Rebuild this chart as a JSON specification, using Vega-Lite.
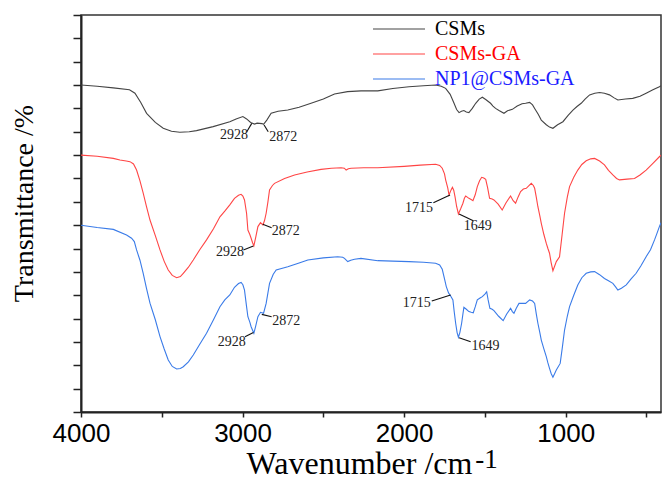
{
  "$schema": "https://vega.github.io/schema/vega-lite/v6.json",
  "autosize": {"type": "none"},
  "width": 580,
  "height": 397,
  "padding": {"left": 81, "top": 15, "right": 1, "bottom": 67},
  "background": "white",
  "config": {
    "view": {"stroke": "#333333", "strokeWidth": 1.5},
    "axis": {"grid": false, "domainColor": "#222222", "domainWidth": 2, "tickColor": "#222222", "tickWidth": 1.5}
  },
  "datasets": {
    "black": [
      {"wn": 4000, "t": 14.0}, {"wn": 3900, "t": 13.95}, {"wn": 3800, "t": 13.88}, {"wn": 3700, "t": 13.8}, {"wn": 3666, "t": 13.65},
      {"wn": 3630, "t": 13.25}, {"wn": 3594, "t": 12.79}, {"wn": 3540, "t": 12.4}, {"wn": 3491, "t": 12.15}, {"wn": 3440, "t": 12.02},
      {"wn": 3388, "t": 11.98}, {"wn": 3330, "t": 12.0}, {"wn": 3285, "t": 12.05}, {"wn": 3182, "t": 12.22}, {"wn": 3079, "t": 12.43},
      {"wn": 3040, "t": 12.55}, {"wn": 2998, "t": 12.65}, {"wn": 2975, "t": 12.55}, {"wn": 2950, "t": 12.4}, {"wn": 2926, "t": 12.33},
      {"wn": 2910, "t": 12.37}, {"wn": 2895, "t": 12.36}, {"wn": 2880, "t": 12.35}, {"wn": 2870, "t": 12.32}, {"wn": 2850, "t": 12.5},
      {"wn": 2823, "t": 12.79}, {"wn": 2780, "t": 12.88}, {"wn": 2720, "t": 12.93}, {"wn": 2650, "t": 13.05}, {"wn": 2576, "t": 13.22},
      {"wn": 2500, "t": 13.4}, {"wn": 2431, "t": 13.62}, {"wn": 2350, "t": 13.72}, {"wn": 2267, "t": 13.75}, {"wn": 2163, "t": 13.75},
      {"wn": 2070, "t": 13.85}, {"wn": 1970, "t": 13.93}, {"wn": 1880, "t": 13.97}, {"wn": 1805, "t": 14.0}, {"wn": 1770, "t": 13.95},
      {"wn": 1743, "t": 13.86}, {"wn": 1715, "t": 13.6}, {"wn": 1691, "t": 13.22}, {"wn": 1675, "t": 12.95}, {"wn": 1660, "t": 12.82},
      {"wn": 1645, "t": 12.88}, {"wn": 1630, "t": 12.91}, {"wn": 1615, "t": 12.85}, {"wn": 1599, "t": 12.82}, {"wn": 1578, "t": 13.0},
      {"wn": 1557, "t": 13.22}, {"wn": 1535, "t": 13.4}, {"wn": 1516, "t": 13.48}, {"wn": 1495, "t": 13.38}, {"wn": 1465, "t": 13.22},
      {"wn": 1450, "t": 13.1}, {"wn": 1434, "t": 13.0}, {"wn": 1410, "t": 12.9}, {"wn": 1382, "t": 12.79}, {"wn": 1360, "t": 12.9},
      {"wn": 1330, "t": 12.96}, {"wn": 1300, "t": 13.1}, {"wn": 1270, "t": 13.2}, {"wn": 1248, "t": 13.22}, {"wn": 1223, "t": 13.26},
      {"wn": 1205, "t": 13.15}, {"wn": 1192, "t": 13.0}, {"wn": 1170, "t": 12.75}, {"wn": 1151, "t": 12.5}, {"wn": 1120, "t": 12.3},
      {"wn": 1100, "t": 12.2}, {"wn": 1079, "t": 12.15}, {"wn": 1050, "t": 12.3}, {"wn": 1017, "t": 12.43}, {"wn": 985, "t": 12.7},
      {"wn": 955, "t": 12.93}, {"wn": 930, "t": 13.08}, {"wn": 904, "t": 13.22}, {"wn": 880, "t": 13.4}, {"wn": 852, "t": 13.58},
      {"wn": 820, "t": 13.65}, {"wn": 790, "t": 13.68}, {"wn": 760, "t": 13.65}, {"wn": 729, "t": 13.58}, {"wn": 700, "t": 13.45},
      {"wn": 677, "t": 13.36}, {"wn": 630, "t": 13.4}, {"wn": 585, "t": 13.43}, {"wn": 540, "t": 13.52}, {"wn": 502, "t": 13.65},
      {"wn": 460, "t": 13.8}, {"wn": 420, "t": 13.93}, {"wn": 410, "t": 13.97}
    ],
    "red": [
      {"wn": 4000, "t": 11.0}, {"wn": 3900, "t": 10.95}, {"wn": 3800, "t": 10.86}, {"wn": 3759, "t": 10.79}, {"wn": 3720, "t": 10.75},
      {"wn": 3697, "t": 10.72}, {"wn": 3675, "t": 10.62}, {"wn": 3656, "t": 10.36}, {"wn": 3635, "t": 9.9}, {"wn": 3615, "t": 9.37},
      {"wn": 3595, "t": 8.8}, {"wn": 3573, "t": 8.22}, {"wn": 3540, "t": 7.55}, {"wn": 3511, "t": 6.94}, {"wn": 3485, "t": 6.45},
      {"wn": 3460, "t": 6.08}, {"wn": 3435, "t": 5.85}, {"wn": 3408, "t": 5.75}, {"wn": 3385, "t": 5.8}, {"wn": 3367, "t": 5.94},
      {"wn": 3335, "t": 6.2}, {"wn": 3305, "t": 6.51}, {"wn": 3265, "t": 6.95}, {"wn": 3223, "t": 7.37}, {"wn": 3180, "t": 7.85},
      {"wn": 3140, "t": 8.36}, {"wn": 3110, "t": 8.6}, {"wn": 3079, "t": 8.87}, {"wn": 3050, "t": 9.15}, {"wn": 3025, "t": 9.28},
      {"wn": 3009, "t": 9.32}, {"wn": 2998, "t": 9.25}, {"wn": 2988, "t": 9.08}, {"wn": 2975, "t": 8.5}, {"wn": 2967, "t": 7.79},
      {"wn": 2955, "t": 7.6}, {"wn": 2947, "t": 7.44}, {"wn": 2938, "t": 7.25}, {"wn": 2930, "t": 7.11}, {"wn": 2918, "t": 7.5},
      {"wn": 2905, "t": 7.94}, {"wn": 2889, "t": 8.11}, {"wn": 2874, "t": 8.01}, {"wn": 2864, "t": 8.2}, {"wn": 2854, "t": 8.51},
      {"wn": 2843, "t": 9.0}, {"wn": 2833, "t": 9.51}, {"wn": 2815, "t": 9.7}, {"wn": 2802, "t": 9.79}, {"wn": 2740, "t": 10.0},
      {"wn": 2678, "t": 10.15}, {"wn": 2600, "t": 10.28}, {"wn": 2514, "t": 10.39}, {"wn": 2450, "t": 10.44}, {"wn": 2390, "t": 10.46},
      {"wn": 2370, "t": 10.44}, {"wn": 2359, "t": 10.36}, {"wn": 2345, "t": 10.42}, {"wn": 2328, "t": 10.44}, {"wn": 2250, "t": 10.46},
      {"wn": 2163, "t": 10.46}, {"wn": 2000, "t": 10.52}, {"wn": 1900, "t": 10.57}, {"wn": 1805, "t": 10.61}, {"wn": 1780, "t": 10.56},
      {"wn": 1764, "t": 10.44}, {"wn": 1750, "t": 10.2}, {"wn": 1743, "t": 9.94}, {"wn": 1730, "t": 9.6}, {"wn": 1722, "t": 9.29},
      {"wn": 1710, "t": 9.5}, {"wn": 1701, "t": 9.62}, {"wn": 1693, "t": 9.5}, {"wn": 1685, "t": 9.22}, {"wn": 1675, "t": 8.8},
      {"wn": 1664, "t": 8.48}, {"wn": 1650, "t": 8.7}, {"wn": 1636, "t": 8.94}, {"wn": 1627, "t": 9.15}, {"wn": 1619, "t": 9.25},
      {"wn": 1609, "t": 9.2}, {"wn": 1599, "t": 9.15}, {"wn": 1585, "t": 9.1}, {"wn": 1574, "t": 9.05}, {"wn": 1560, "t": 9.3},
      {"wn": 1547, "t": 9.65}, {"wn": 1533, "t": 9.9}, {"wn": 1520, "t": 10.05}, {"wn": 1507, "t": 10.02}, {"wn": 1495, "t": 9.96},
      {"wn": 1483, "t": 9.6}, {"wn": 1471, "t": 9.15}, {"wn": 1455, "t": 9.12}, {"wn": 1444, "t": 9.08}, {"wn": 1418, "t": 8.9},
      {"wn": 1393, "t": 8.65}, {"wn": 1370, "t": 8.95}, {"wn": 1341, "t": 9.25}, {"wn": 1325, "t": 9.05}, {"wn": 1310, "t": 8.94},
      {"wn": 1295, "t": 9.2}, {"wn": 1279, "t": 9.44}, {"wn": 1262, "t": 9.55}, {"wn": 1244, "t": 9.58}, {"wn": 1213, "t": 9.79},
      {"wn": 1200, "t": 9.7}, {"wn": 1192, "t": 9.58}, {"wn": 1182, "t": 9.2}, {"wn": 1172, "t": 8.79}, {"wn": 1160, "t": 8.4},
      {"wn": 1151, "t": 8.08}, {"wn": 1135, "t": 7.6}, {"wn": 1120, "t": 7.22}, {"wn": 1110, "t": 7.0}, {"wn": 1100, "t": 6.8},
      {"wn": 1090, "t": 6.4}, {"wn": 1079, "t": 6.05}, {"wn": 1068, "t": 6.25}, {"wn": 1058, "t": 6.44}, {"wn": 1038, "t": 6.65},
      {"wn": 1022, "t": 7.6}, {"wn": 1007, "t": 8.51}, {"wn": 990, "t": 9.2}, {"wn": 976, "t": 9.65}, {"wn": 950, "t": 10.05},
      {"wn": 925, "t": 10.36}, {"wn": 900, "t": 10.6}, {"wn": 873, "t": 10.76}, {"wn": 845, "t": 10.84}, {"wn": 821, "t": 10.86},
      {"wn": 790, "t": 10.75}, {"wn": 760, "t": 10.58}, {"wn": 735, "t": 10.35}, {"wn": 708, "t": 10.15}, {"wn": 685, "t": 10.0},
      {"wn": 667, "t": 9.94}, {"wn": 620, "t": 9.97}, {"wn": 574, "t": 10.0}, {"wn": 540, "t": 10.15}, {"wn": 502, "t": 10.36},
      {"wn": 460, "t": 10.65}, {"wn": 420, "t": 10.93}, {"wn": 410, "t": 11.0}
    ],
    "blue": [
      {"wn": 4000, "t": 8.0}, {"wn": 3900, "t": 7.9}, {"wn": 3800, "t": 7.82}, {"wn": 3718, "t": 7.58}, {"wn": 3687, "t": 7.44},
      {"wn": 3670, "t": 7.3}, {"wn": 3656, "t": 6.94}, {"wn": 3635, "t": 6.5}, {"wn": 3615, "t": 5.94}, {"wn": 3595, "t": 5.3},
      {"wn": 3573, "t": 4.66}, {"wn": 3540, "t": 3.95}, {"wn": 3511, "t": 3.23}, {"wn": 3485, "t": 2.7}, {"wn": 3460, "t": 2.23},
      {"wn": 3435, "t": 1.95}, {"wn": 3408, "t": 1.84}, {"wn": 3385, "t": 1.86}, {"wn": 3367, "t": 1.94}, {"wn": 3335, "t": 2.15},
      {"wn": 3305, "t": 2.44}, {"wn": 3265, "t": 2.9}, {"wn": 3223, "t": 3.37}, {"wn": 3180, "t": 3.95}, {"wn": 3140, "t": 4.51},
      {"wn": 3110, "t": 4.8}, {"wn": 3079, "t": 5.01}, {"wn": 3050, "t": 5.34}, {"wn": 3025, "t": 5.5}, {"wn": 3009, "t": 5.55},
      {"wn": 2998, "t": 5.45}, {"wn": 2988, "t": 5.22}, {"wn": 2975, "t": 4.5}, {"wn": 2967, "t": 4.08}, {"wn": 2955, "t": 3.85},
      {"wn": 2947, "t": 3.65}, {"wn": 2930, "t": 3.37}, {"wn": 2918, "t": 3.7}, {"wn": 2905, "t": 4.08}, {"wn": 2889, "t": 4.27},
      {"wn": 2870, "t": 4.23}, {"wn": 2854, "t": 4.65}, {"wn": 2843, "t": 5.1}, {"wn": 2833, "t": 5.51}, {"wn": 2810, "t": 5.9},
      {"wn": 2792, "t": 6.08}, {"wn": 2720, "t": 6.22}, {"wn": 2650, "t": 6.38}, {"wn": 2596, "t": 6.51}, {"wn": 2500, "t": 6.6},
      {"wn": 2411, "t": 6.65}, {"wn": 2380, "t": 6.63}, {"wn": 2369, "t": 6.58}, {"wn": 2349, "t": 6.44}, {"wn": 2330, "t": 6.5},
      {"wn": 2307, "t": 6.54}, {"wn": 2267, "t": 6.58}, {"wn": 2163, "t": 6.48}, {"wn": 2070, "t": 6.46}, {"wn": 1970, "t": 6.44},
      {"wn": 1880, "t": 6.41}, {"wn": 1805, "t": 6.37}, {"wn": 1780, "t": 6.3}, {"wn": 1764, "t": 6.11}, {"wn": 1750, "t": 5.7},
      {"wn": 1739, "t": 5.37}, {"wn": 1725, "t": 5.1}, {"wn": 1712, "t": 4.97}, {"wn": 1698, "t": 4.8}, {"wn": 1690, "t": 4.3},
      {"wn": 1681, "t": 3.8}, {"wn": 1672, "t": 3.4}, {"wn": 1664, "t": 3.2}, {"wn": 1655, "t": 3.4}, {"wn": 1644, "t": 3.8},
      {"wn": 1636, "t": 4.2}, {"wn": 1630, "t": 4.48}, {"wn": 1615, "t": 4.4}, {"wn": 1599, "t": 4.3}, {"wn": 1585, "t": 4.27},
      {"wn": 1572, "t": 4.25}, {"wn": 1560, "t": 4.5}, {"wn": 1547, "t": 4.8}, {"wn": 1530, "t": 4.88}, {"wn": 1516, "t": 4.94},
      {"wn": 1500, "t": 5.05}, {"wn": 1489, "t": 5.15}, {"wn": 1480, "t": 4.8}, {"wn": 1469, "t": 4.44}, {"wn": 1455, "t": 4.4},
      {"wn": 1444, "t": 4.34}, {"wn": 1415, "t": 4.1}, {"wn": 1387, "t": 3.91}, {"wn": 1365, "t": 4.2}, {"wn": 1341, "t": 4.44},
      {"wn": 1330, "t": 4.3}, {"wn": 1320, "t": 4.23}, {"wn": 1305, "t": 4.45}, {"wn": 1289, "t": 4.65}, {"wn": 1248, "t": 4.65},
      {"wn": 1223, "t": 4.8}, {"wn": 1205, "t": 4.75}, {"wn": 1192, "t": 4.65}, {"wn": 1182, "t": 4.2}, {"wn": 1172, "t": 3.8},
      {"wn": 1160, "t": 3.4}, {"wn": 1151, "t": 3.08}, {"wn": 1135, "t": 2.7}, {"wn": 1120, "t": 2.37}, {"wn": 1110, "t": 2.1},
      {"wn": 1100, "t": 1.87}, {"wn": 1090, "t": 1.65}, {"wn": 1079, "t": 1.49}, {"wn": 1068, "t": 1.65}, {"wn": 1058, "t": 1.8},
      {"wn": 1034, "t": 2.08}, {"wn": 1020, "t": 2.8}, {"wn": 1007, "t": 3.51}, {"wn": 990, "t": 4.1}, {"wn": 976, "t": 4.51},
      {"wn": 950, "t": 5.0}, {"wn": 925, "t": 5.44}, {"wn": 900, "t": 5.75}, {"wn": 873, "t": 5.94}, {"wn": 845, "t": 6.0},
      {"wn": 821, "t": 6.01}, {"wn": 790, "t": 5.88}, {"wn": 760, "t": 5.72}, {"wn": 735, "t": 5.62}, {"wn": 708, "t": 5.51},
      {"wn": 690, "t": 5.35}, {"wn": 677, "t": 5.22}, {"wn": 655, "t": 5.3}, {"wn": 625, "t": 5.44}, {"wn": 595, "t": 5.7},
      {"wn": 564, "t": 5.94}, {"wn": 535, "t": 6.25}, {"wn": 502, "t": 6.65}, {"wn": 475, "t": 6.95}, {"wn": 450, "t": 7.37},
      {"wn": 435, "t": 7.65}, {"wn": 420, "t": 7.94}, {"wn": 410, "t": 8.1}
    ],
    "notes": [
      {"label": "2928", "wn": 2943, "t": 12.36, "wn2": 2974, "t2": 12.0, "lw": 3053, "lt": 11.86},
      {"label": "2872", "wn": 2867, "t": 12.29, "wn2": 2841, "t2": 12.0, "lw": 2748, "lt": 11.79},
      {"label": "2928", "wn": 2933, "t": 7.11, "wn2": 2995, "t2": 6.94, "lw": 3078, "lt": 6.87},
      {"label": "2872", "wn": 2875, "t": 8.04, "wn2": 2820, "t2": 7.89, "lw": 2732, "lt": 7.76},
      {"label": "2928", "wn": 2933, "t": 3.4, "wn2": 2985, "t2": 3.22, "lw": 3067, "lt": 3.01},
      {"label": "2872", "wn": 2881, "t": 4.18, "wn2": 2820, "t2": 4.08, "lw": 2729, "lt": 3.9},
      {"label": "1715", "wn": 1716, "t": 9.29, "wn2": 1819, "t2": 8.96, "lw": 1908, "lt": 8.72},
      {"label": "1649", "wn": 1660, "t": 8.48, "wn2": 1572, "t2": 8.19, "lw": 1544, "lt": 7.97},
      {"label": "1715", "wn": 1712, "t": 5.01, "wn2": 1829, "t2": 4.75, "lw": 1922, "lt": 4.66},
      {"label": "1649", "wn": 1660, "t": 3.18, "wn2": 1588, "t2": 3.01, "lw": 1497, "lt": 2.83}
    ]
  },
  "layer": [
    {
      "data": {"name": "black"},
      "transform": [{"calculate": "'CSMs'", "as": "s"}],
      "mark": {"type": "line", "strokeWidth": 1.1, "clip": true},
      "encoding": {
        "x": {"field": "wn", "type": "quantitative"},
        "y": {"field": "t", "type": "quantitative"},
        "color": {"field": "s", "type": "nominal"}
      }
    },
    {
      "data": {"name": "red"},
      "transform": [{"calculate": "'CSMs-GA'", "as": "s"}],
      "mark": {"type": "line", "strokeWidth": 1.1, "clip": true},
      "encoding": {
        "x": {"field": "wn", "type": "quantitative"},
        "y": {"field": "t", "type": "quantitative"},
        "color": {"field": "s", "type": "nominal"}
      }
    },
    {
      "data": {"name": "blue"},
      "transform": [{"calculate": "'NP1@CSMs-GA'", "as": "s"}],
      "mark": {"type": "line", "strokeWidth": 1.1, "clip": true},
      "encoding": {
        "x": {"field": "wn", "type": "quantitative"},
        "y": {"field": "t", "type": "quantitative"},
        "color": {"field": "s", "type": "nominal"}
      }
    },
    {
      "data": {"name": "notes"},
      "mark": {"type": "rule", "color": "#111111", "strokeWidth": 1.1},
      "encoding": {
        "x": {"field": "wn", "type": "quantitative"},
        "x2": {"field": "wn2"},
        "y": {"field": "t", "type": "quantitative"},
        "y2": {"field": "t2"}
      }
    },
    {
      "data": {"name": "notes"},
      "mark": {"type": "text", "font": "Liberation Serif", "fontSize": 14, "color": "#222222", "baseline": "middle", "align": "center"},
      "encoding": {
        "x": {"field": "lw", "type": "quantitative"},
        "y": {"field": "lt", "type": "quantitative"},
        "text": {"field": "label"}
      }
    },
    {
      "data": {"values": [{"sup": "-1"}]},
      "mark": {"type": "text", "font": "Liberation Serif", "fontSize": 27, "color": "#000000", "baseline": "alphabetic", "align": "center", "clip": false},
      "encoding": {
        "x": {"datum": 1490, "type": "quantitative"},
        "y": {"datum": -2.4, "type": "quantitative"},
        "text": {"field": "sup"}
      }
    }
  ],
  "resolve": {"scale": {"color": "shared"}},
  "encoding": {
    "x": {
      "type": "quantitative",
      "scale": {"domain": [410, 4000], "reverse": true, "nice": false, "zero": false},
      "axis": {
        "title": "Wavenumber /cm",
        "titleFont": "Liberation Serif",
        "titleFontSize": 32,
        "titleFontWeight": "normal",
        "titleColor": "#000000",
        "titlePadding": 2,
        "titleX": 278,
        "values": [4000, 3500, 3000, 2500, 2000, 1500, 1000, 500],
        "labelExpr": "datum.value % 1000 == 0 ? datum.label : ''",
        "format": "d",
        "labelFont": "Liberation Sans",
        "labelFontSize": 26,
        "labelColor": "#000000",
        "labelPadding": 3,
        "tickSize": 5,
        "labelFlush": false,
        "labelOverlap": false
      }
    },
    "y": {
      "type": "quantitative",
      "scale": {"domain": [0, 17], "nice": false, "zero": false},
      "axis": {
        "title": "Transmittance /%",
        "titleFont": "Liberation Serif",
        "titleFontSize": 28,
        "titleFontWeight": "normal",
        "titleColor": "#000000",
        "titlePadding": 34,
        "titleY": 188,
        "values": [0, 1, 2, 3, 4, 5, 6, 7, 8, 9, 10, 11, 12, 13, 14, 15, 16, 17],
        "labels": false,
        "tickSize": 8
      }
    },
    "color": {
      "type": "nominal",
      "scale": {"domain": ["CSMs", "CSMs-GA", "NP1@CSMs-GA"], "range": ["#444444", "#ff4545", "#3a7be8"]},
      "legend": {
        "title": null,
        "orient": "none",
        "legendX": 282,
        "legendY": 4,
        "padding": 0,
        "symbolType": "M0,0H10.4",
        "symbolSize": 100,
        "symbolStrokeWidth": 1.2,
        "symbolFillColor": "transparent",
        "labelFont": "Liberation Serif",
        "labelFontSize": 20,
        "labelOffset": 52,
        "rowPadding": 5,
        "labelColor": {"expr": "datum.label == 'CSMs' ? '#000000' : datum.label == 'CSMs-GA' ? '#ff0000' : '#1a1aff'"}
      }
    }
  }
}
